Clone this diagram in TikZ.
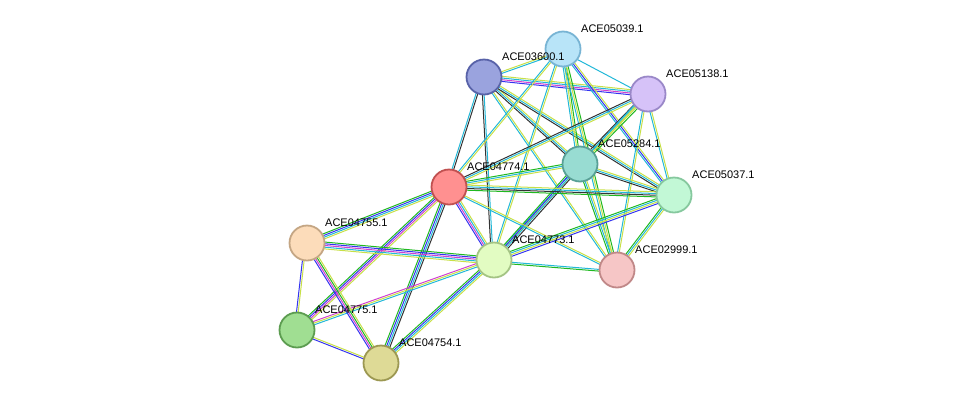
\documentclass[tikz,border=0pt]{standalone}
\usepackage{fontspec}
\setmainfont{Liberation Sans}
\usetikzlibrary{calc,backgrounds}
\definecolor{tmine}{HTML}{C8E048}
\definecolor{dbase}{HTML}{22B8D8}
\definecolor{expr}{HTML}{D040D0}
\definecolor{nbh}{HTML}{20B820}
\definecolor{cooc}{HTML}{3434F0}
\definecolor{coex}{HTML}{333333}
% node fill / border colours
\definecolor{f05039}{HTML}{B8E4F8}\definecolor{d05039}{HTML}{78B4D4}
\definecolor{f03600}{HTML}{9AA3DE}\definecolor{d03600}{HTML}{5862A8}
\definecolor{f05138}{HTML}{D6C2F8}\definecolor{d05138}{HTML}{9A88C8}
\definecolor{f05284}{HTML}{98DCD2}\definecolor{d05284}{HTML}{58A096}
\definecolor{f04774}{HTML}{FF9090}\definecolor{d04774}{HTML}{C05050}
\definecolor{f05037}{HTML}{C2F8D6}\definecolor{d05037}{HTML}{86C89E}
\definecolor{f04755}{HTML}{FCDCBA}\definecolor{d04755}{HTML}{C4A684}
\definecolor{f04773}{HTML}{E2FCC2}\definecolor{d04773}{HTML}{A4C484}
\definecolor{f02999}{HTML}{F6C6C6}\definecolor{d02999}{HTML}{C08888}
\definecolor{f04775}{HTML}{A0DE92}\definecolor{d04775}{HTML}{5C9C50}
\definecolor{f04754}{HTML}{DEDA96}\definecolor{d04754}{HTML}{9C9852}
\tikzset{
  prot/.style={circle, draw=d#1, fill=f#1, line width=1.8pt, minimum size=35pt, inner sep=0pt},
  plabel/.style={font=\fontsize{11}{12}\selectfont, anchor=south west, inner sep=0pt}
}
% one edge = several thin coloured lines side by side
\newcommand\stredge[3]{%
  \foreach \c [count=\i] in {#3} {
    \pgfmathsetmacro\off{(\i-2.5)*1.7}
    \draw[\c, line width=1pt] ($(#1)!\off pt!90:(#2)$) -- ($(#2)!\off pt!-90:(#1)$);
  }}
\begin{document}
\begin{tikzpicture}[x=1pt,y=-1pt]
  \useasboundingbox (0,0) rectangle (976,408);
  % proteins
  \node[prot=05039] (p05039) at (563,49) {};
  \node[prot=03600] (p03600) at (484,77) {};
  \node[prot=05138] (p05138) at (648,94) {};
  \node[prot=05284] (p05284) at (580,164) {};
  \node[prot=04774] (p04774) at (449,187) {};
  \node[prot=05037] (p05037) at (674,195) {};
  \node[prot=04755] (p04755) at (307,243) {};
  \node[prot=04773] (p04773) at (494,260) {};
  \node[prot=02999] (p02999) at (617,270) {};
  \node[prot=04775] (p04775) at (297,330) {};
  \node[prot=04754] (p04754) at (381,363) {};
  % labels
  \foreach \p in {05039,03600,05138,05284,04774,05037,04755,04773,02999,04775,04754}
    \node[plabel] at ([xshift=5pt,yshift=3pt]p\p.north east) {ACE\p.1};
  % interactions
  \begin{scope}[on background layer]
    \stredge{p03600}{p05039}{dbase,tmine}
    \stredge{p03600}{p05138}{cooc,expr,dbase,tmine}
    \stredge{p03600}{p05284}{coex,dbase,tmine}
    \stredge{p03600}{p05037}{coex,dbase,tmine}
    \stredge{p03600}{p04774}{dbase,coex}
    \stredge{p03600}{p04773}{coex,dbase}
    \stredge{p03600}{p02999}{dbase,tmine}
    \stredge{p05039}{p05138}{dbase}
    \stredge{p05039}{p05284}{dbase,tmine,nbh}
    \stredge{p05039}{p05037}{dbase,cooc,tmine}
    \stredge{p05039}{p04774}{dbase,tmine}
    \stredge{p05039}{p04773}{dbase,tmine}
    \stredge{p05039}{p02999}{dbase,tmine,nbh}
    \stredge{p05138}{p05284}{coex,dbase,tmine,nbh}
    \stredge{p05138}{p05037}{dbase,tmine}
    \stredge{p05138}{p04774}{coex,dbase,tmine}
    \stredge{p05138}{p04773}{dbase,tmine}
    \stredge{p05138}{p02999}{dbase,tmine}
    \stredge{p05284}{p04774}{nbh,dbase,tmine}
    \stredge{p05284}{p05037}{coex,dbase,tmine}
    \stredge{p05284}{p04773}{nbh,cooc,dbase,coex}
    \stredge{p05284}{p02999}{nbh,dbase,tmine}
    \stredge{p04774}{p05037}{nbh,coex,dbase,tmine}
    \stredge{p04774}{p04773}{cooc,expr,dbase,tmine}
    \stredge{p04774}{p02999}{dbase,tmine}
    \stredge{p04774}{p04755}{nbh,cooc,dbase,tmine}
    \stredge{p04774}{p04775}{nbh,cooc,expr,tmine}
    \stredge{p04774}{p04754}{nbh,cooc,dbase,coex}
    \stredge{p05037}{p04773}{nbh,dbase,tmine,cooc}
    \stredge{p05037}{p02999}{nbh,dbase,tmine}
    \stredge{p04773}{p02999}{nbh,dbase}
    \stredge{p04773}{p04755}{nbh,cooc,expr,dbase,tmine}
    \stredge{p04773}{p04775}{expr,tmine,dbase}
    \stredge{p04773}{p04754}{nbh,cooc,dbase,tmine}
    \stredge{p04755}{p04775}{cooc,tmine}
    \stredge{p04755}{p04754}{cooc,expr,nbh,tmine}
    \stredge{p04775}{p04754}{cooc,tmine}
  \end{scope}
\end{tikzpicture}
\end{document}
